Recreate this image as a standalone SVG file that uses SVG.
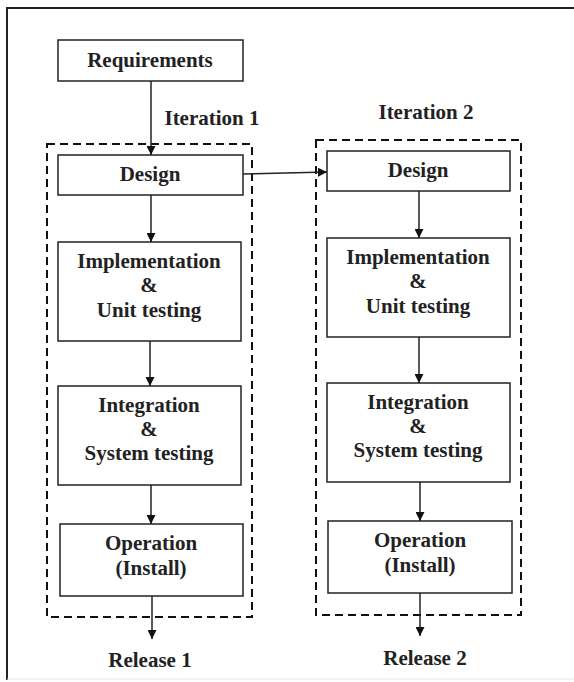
<svg xmlns="http://www.w3.org/2000/svg" width="574" height="682" viewBox="0 0 574 682">
<defs>
<style>
.box{fill:#fff;stroke:#222;stroke-width:1.5}
.dash{fill:none;stroke:#111;stroke-width:2;stroke-dasharray:8 5}
text{font-family:'Liberation Serif',Tinos,'Times New Roman',serif;font-weight:bold;font-size:21px;fill:#222;text-anchor:middle}
.c{stroke:#222;stroke-width:1.5;fill:none;marker-end:url(#ah)}
</style>
<marker id="ah" viewBox="0 0 10 10" refX="10" refY="5" markerWidth="9" markerHeight="9" markerUnits="userSpaceOnUse" orient="auto">
<path d="M0,0 L10,5 L0,10 z" fill="#111"/>
</marker>
</defs>
<rect x="0" y="0" width="574" height="682" fill="#fff"/>
<path d="M7,680 L7,8 L574,8" fill="none" stroke="#222" stroke-width="2"/>
<line x1="7" y1="679" x2="574" y2="679" stroke="#e4e4e4" stroke-width="1"/>

<g id="iteration1-frame">
<rect class="dash" x="47" y="144" width="205" height="473"/>
<text x="212" y="125">Iteration 1</text>
</g>
<g id="iteration2-frame">
<rect class="dash" x="316" y="140" width="205" height="475"/>
<text x="426" y="119">Iteration 2</text>
</g>

<g id="requirements">
<rect class="box" x="58" y="40" width="185" height="41"/>
<text x="150" y="67">Requirements</text>
</g>

<g id="design1">
<rect class="box" x="58" y="155" width="185" height="40"/>
<text x="150" y="181">Design</text>
</g>
<g id="impl1">
<rect class="box" x="58" y="242" width="183" height="99"/>
<text x="149" y="268">Implementation</text>
<text x="149" y="292">&amp;</text>
<text x="149" y="317">Unit testing</text>
</g>
<g id="integ1">
<rect class="box" x="58" y="386" width="183" height="99"/>
<text x="149" y="412">Integration</text>
<text x="149" y="436">&amp;</text>
<text x="149" y="460">System testing</text>
</g>
<g id="oper1">
<rect class="box" x="60" y="524" width="183" height="72"/>
<text x="151" y="550">Operation</text>
<text x="151" y="575">(Install)</text>
</g>
<g id="release1">
<text x="150" y="667">Release 1</text>
</g>

<g id="design2">
<rect class="box" x="327" y="151" width="183" height="40"/>
<text x="418" y="177">Design</text>
</g>
<g id="impl2">
<rect class="box" x="327" y="238" width="183" height="99"/>
<text x="418" y="264">Implementation</text>
<text x="418" y="288">&amp;</text>
<text x="418" y="313">Unit testing</text>
</g>
<g id="integ2">
<rect class="box" x="327" y="383" width="183" height="99"/>
<text x="418" y="409">Integration</text>
<text x="418" y="433">&amp;</text>
<text x="418" y="457">System testing</text>
</g>
<g id="oper2">
<rect class="box" x="328" y="521" width="184" height="72"/>
<text x="420" y="547">Operation</text>
<text x="420" y="572">(Install)</text>
</g>
<g id="release2">
<text x="425" y="665">Release 2</text>
</g>

<g id="connectors">
<line class="c" x1="151" y1="81" x2="151" y2="155"/>
<line class="c" x1="151" y1="195" x2="151" y2="242"/>
<line class="c" x1="150" y1="341" x2="150" y2="386"/>
<line class="c" x1="151" y1="485" x2="151" y2="524"/>
<line class="c" x1="152" y1="596" x2="152" y2="639"/>
<line class="c" x1="243" y1="174" x2="327" y2="172"/>
<line class="c" x1="419" y1="191" x2="419" y2="238"/>
<line class="c" x1="419" y1="337" x2="419" y2="383"/>
<line class="c" x1="420" y1="482" x2="420" y2="521"/>
<line class="c" x1="420" y1="593" x2="420" y2="636"/>
</g>
</svg>
